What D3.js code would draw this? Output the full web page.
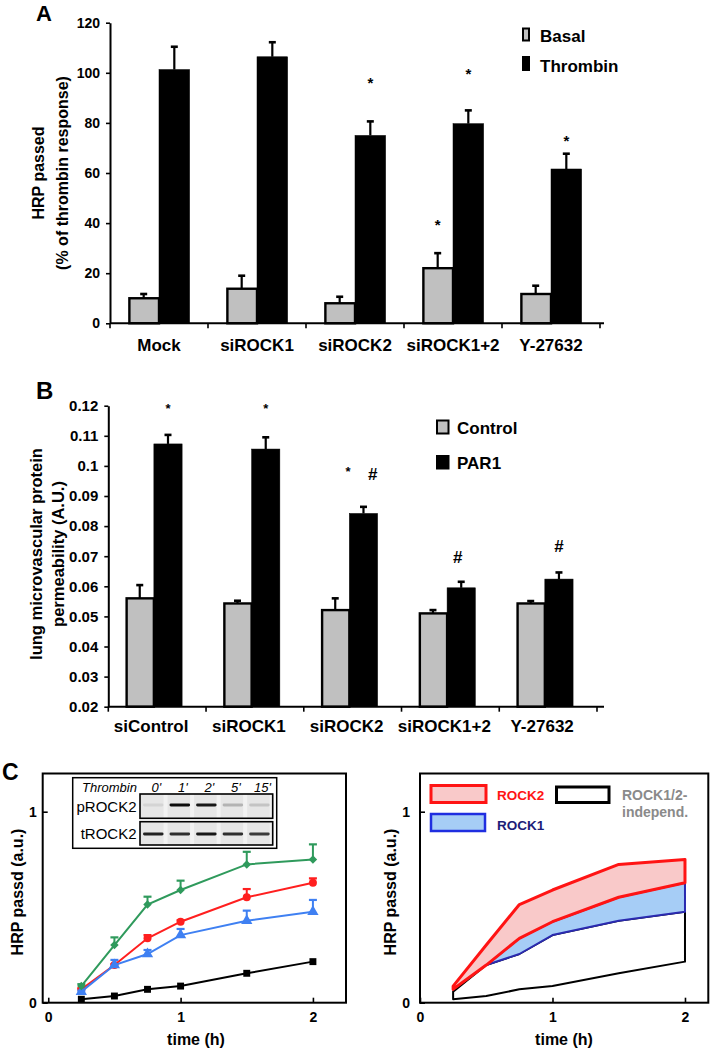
<!DOCTYPE html>
<html><head><meta charset="utf-8">
<script src="https://cdn.jsdelivr.net/npm/d3@7"></script>
<style>body{margin:0;background:#fff}svg{display:block}</style>
</head><body>
<script>
// ---------------- Panel A data ----------------
const catsA = ["Mock", "siROCK1", "siROCK2", "siROCK1+2", "Y-27632"];
const seriesA = ["Basal", "Thrombin"];
const basalA = [10, 13.8, 8, 22, 11.7];
const basalErrA = [1.7, 5.2, 2.6, 6, 3.3];
const thrombinA = [101.3, 106.4, 75, 79.7, 61.6];
const thrombinErrA = [9.1, 5.8, 5.6, 5.3, 6.1];
const yTicksA = [0, 20, 40, 60, 80, 100, 120];
const marksA = [
  {cat: "siROCK2", series: "Thrombin", text: "*", at: 97.3, shift: 0},
  {cat: "siROCK1+2", series: "Basal", text: "*", at: 40.6, shift: 0},
  {cat: "siROCK1+2", series: "Thrombin", text: "*", at: 101, shift: 0},
  {cat: "Y-27632", series: "Thrombin", text: "*", at: 74.2, shift: 0}
];

// ---------------- Panel B data ----------------
const catsB = ["siControl", "siROCK1", "siROCK2", "siROCK1+2", "Y-27632"];
const seriesB = ["Control", "PAR1"];
const controlB = [0.056, 0.0543, 0.0521, 0.051, 0.0543];
const controlErrB = [0.0044, 0.0009, 0.0039, 0.0011, 0.0008];
const par1B = [0.1073, 0.1056, 0.0842, 0.0595, 0.0624];
const par1ErrB = [0.003, 0.0039, 0.0022, 0.002, 0.0022];
const yTicksB = [0.02, 0.03, 0.04, 0.05, 0.06, 0.07, 0.08, 0.09, 0.1, 0.11, 0.12];
const marksB = [
  {cat: "siControl", series: "PAR1", text: "*", at: 0.12, shift: 0},
  {cat: "siROCK1", series: "PAR1", text: "*", at: 0.12, shift: 0},
  {cat: "siROCK2", series: "PAR1", text: "*", at: 0.0992, shift: -0.55},
  {cat: "siROCK2", series: "PAR1", text: "#", at: 0.0975, shift: 0.33},
  {cat: "siROCK1+2", series: "PAR1", text: "#", at: 0.0698, shift: -0.12},
  {cat: "Y-27632", series: "PAR1", text: "#", at: 0.0734, shift: 0}
];

// ---------------- Panel C data ----------------
const timesC = [0.25, 0.5, 0.75, 1, 1.5, 2];
const greenC = [0.087, 0.302, 0.514, 0.59, 0.724, 0.75];
const greenErrC = [0.01, 0.04, 0.041, 0.049, 0.066, 0.079];
const redC = [0.07, 0.197, 0.337, 0.424, 0.552, 0.628];
const redErrC = [0.005, 0.005, 0.017, 0.008, 0.043, 0.023];
const blueC = [0.058, 0.197, 0.255, 0.354, 0.429, 0.476];
const blueErrC = [0.005, 0.027, 0.021, 0.032, 0.053, 0.062];
const blackC = [0.018, 0.035, 0.07, 0.087, 0.154, 0.215];
const xTicksC = [0, 1, 2];
const yTicksC = [0, 1];
const blotLanes = ["0'", "1'", "2'", "5'", "15'"];
const pROCK2Band = [0.08, 0.95, 0.9, 0.22, 0.15];
const tROCK2Band = [0.85, 0.8, 0.9, 0.8, 0.75];
const areaLegend = ["ROCK2", "ROCK1", "ROCK1/2-", "independ."];

// ---------------- drawing ----------------
const FONT = "'Liberation Sans', Arial, Helvetica, sans-serif";
const W = 714, H = 1050;
const svg = d3.select("body").append("svg").attr("width", W).attr("height", H)
  .style("font-family", FONT);
svg.append("rect").attr("width", W).attr("height", H).attr("fill", "#fff");

function panelLetter(t, x, y, fs) {
  svg.append("text").attr("x", x).attr("y", y).text(t)
    .attr("font-size", fs).attr("font-weight", "bold");
}

function barPanel(cfg) {
  const g = svg.append("g");
  const x0 = d3.scaleBand().domain(cfg.cats).range(cfg.xRange).padding(0);
  const x1 = d3.scaleBand().domain(cfg.series).range([0, x0.bandwidth()])
    .paddingInner(0).paddingOuter(cfg.outer).align(cfg.align);
  const y = d3.scaleLinear().domain(cfg.yDomain).range(cfg.yRange);
  const rows = [];
  cfg.cats.forEach((c, i) => {
    cfg.series.forEach((s, j) => {
      rows.push({cat: c, series: s, v: cfg.values[j][i], e: cfg.errs[j][i], j});
    });
  });
  const bx = d => x0(d.cat) + x1(d.series);
  const eb = g.append("g").attr("stroke", "#000").attr("stroke-width", 2.2);
  rows.forEach(d => {
    const cx = bx(d) + x1.bandwidth() / 2;
    eb.append("line").attr("x1", cx).attr("x2", cx).attr("y1", y(d.v)).attr("y2", y(d.v + d.e));
    eb.append("line").attr("x1", cx - 3.5).attr("x2", cx + 3.5).attr("y1", y(d.v + d.e)).attr("y2", y(d.v + d.e)).attr("stroke-width", 2.6);
  });
  g.append("g").selectAll("rect").data(rows).join("rect")
    .attr("x", d => bx(d) + (d.j === 0 ? 1 : 0))
    .attr("y", d => y(d.v))
    .attr("width", d => x1.bandwidth() - (d.j === 0 ? 1 : 0))
    .attr("height", d => y(cfg.yDomain[0]) - y(d.v))
    .attr("fill", d => d.j === 0 ? "#c0c0c0" : "#000")
    .attr("stroke", "#000").attr("stroke-width", d => d.j === 0 ? 2.4 : 0.5);
  const ya = g.append("g").attr("transform", `translate(${cfg.xRange[0]},0)`)
    .call(d3.axisLeft(y).tickValues(cfg.yTicks).tickSize(4).tickSizeOuter(0).tickPadding(6).tickFormat(cfg.fmt));
  ya.selectAll("text").attr("font-size", cfg.tickFont).attr("font-weight", "bold").attr("font-family", FONT).attr("fill", "#000");
  ya.select(".domain").attr("stroke-width", 2);
  ya.selectAll(".tick line").attr("stroke-width", 1.6);
  const ybase = y(cfg.yDomain[0]);
  g.append("line").attr("x1", cfg.xRange[0]).attr("x2", cfg.xEnd).attr("y1", ybase).attr("y2", ybase)
    .attr("stroke", "#000").attr("stroke-width", 2);
  const bounds = cfg.cats.map(c => x0(c)).concat([cfg.xRange[1]]);
  g.append("g").selectAll("line").data(bounds).join("line")
    .attr("x1", d => d).attr("x2", d => d).attr("y1", ybase).attr("y2", ybase + 5)
    .attr("stroke", "#000").attr("stroke-width", 1.6);
  g.append("g").selectAll("text").data(cfg.cats).join("text")
    .attr("x", c => x0(c) + x0.bandwidth() / 2 + cfg.labelShift)
    .attr("y", cfg.labelY).attr("text-anchor", "middle")
    .attr("font-size", 17).attr("font-weight", "bold").text(c => c);
  cfg.marks.forEach(m => {
    const cx = x0(m.cat) + x1(m.series) + x1.bandwidth() / 2 + m.shift * x1.bandwidth();
    const isStar = m.text === "*";
    const fs = isStar ? cfg.starFont : 17;
    g.append("text").attr("x", cx).attr("y", y(m.at) + (isStar ? fs * 0.56 : fs * 0.36))
      .attr("text-anchor", "middle").attr("font-size", fs).attr("font-weight", "bold").text(m.text);
  });
  const tx = g.append("text").attr("transform", `translate(0,${cfg.titleY}) rotate(-90)`)
    .attr("text-anchor", "middle").attr("font-size", cfg.titleFont).attr("font-weight", "bold");
  cfg.title.forEach((t, i) => {
    tx.append("tspan").attr("x", 0).attr("y", cfg.titleX[i]).attr("dy", "0.36em").text(t);
  });
  cfg.series.forEach((s, j) => {
    const L = cfg.legend[j];
    g.append("rect").attr("x", L.x).attr("y", L.y).attr("width", L.w).attr("height", L.h)
      .attr("fill", j === 0 ? "#c0c0c0" : "#000").attr("stroke", "#000").attr("stroke-width", 2);
    g.append("text").attr("x", L.tx).attr("y", L.ty).attr("font-size", 17).attr("font-weight", "bold").text(s);
  });
}

// Panel A
panelLetter("A", 36, 21, 22);
barPanel({
  cats: catsA, series: seriesA, values: [basalA, thrombinA], errs: [basalErrA, thrombinErrA],
  xRange: [110, 600], xEnd: 604, outer: 0.6, align: 0.5,
  yDomain: [0, 120], yRange: [323.3, 22.7], yTicks: yTicksA, fmt: d3.format("d"), tickFont: 14,
  labelY: 350.7, labelShift: 0, marks: marksA, starFont: 15,
  title: ["HRP passed", "(% of thrombin response)"], titleX: [38, 62], titleY: 173, titleFont: 16,
  legend: [{x: 523, y: 28.5, w: 6, h: 12, tx: 540, ty: 41.5}, {x: 523, y: 57, w: 6, h: 13, tx: 540, ty: 71.5}]
});

// Panel B
panelLetter("B", 36, 399, 24);
barPanel({
  cats: catsB, series: seriesB, values: [controlB, par1B], errs: [controlErrB, par1ErrB],
  xRange: [108.3, 597], xEnd: 604, outer: 0.73, align: 0.42,
  yDomain: [0.02, 0.12], yRange: [706.7, 405.7], yTicks: yTicksB, fmt: d => String(+d.toFixed(2)), tickFont: 15,
  labelY: 731.7, labelShift: -6, marks: marksB, starFont: 13,
  title: ["lung microvascular protein", "permeability (A.U.)"], titleX: [36, 58], titleY: 554, titleFont: 16.5,
  legend: [{x: 437, y: 420.5, w: 11.5, h: 13, tx: 457, ty: 433.5}, {x: 437, y: 456, w: 11.5, h: 12.5, tx: 457, ty: 469}]
});

// ---------------- Panel C ----------------
panelLetter("C", 2, 780, 23);
const yC = d3.scaleLinear().domain([0, 1.2]).range([1002.7, 773.5]);

function framedAxes(g, x, frame) {
  g.append("rect").attr("x", frame[0]).attr("y", yC(1.2)).attr("width", frame[1] - frame[0])
    .attr("height", yC(0) - yC(1.2)).attr("fill", "#fff").attr("stroke", "#000").attr("stroke-width", 2);
  const xa = g.append("g").attr("transform", `translate(0,${yC(0)})`)
    .call(d3.axisBottom(x).tickValues(xTicksC).tickSize(-5).tickSizeOuter(0).tickPadding(9).tickFormat(d3.format("d")));
  xa.select(".domain").remove();
  xa.selectAll("text").attr("font-size", 14).attr("font-weight", "bold").attr("font-family", FONT);
  xa.selectAll(".tick line").attr("stroke-width", 1.6);
  return xa;
}
function yAxisC(g, xpos, pad) {
  const ya = g.append("g").attr("transform", `translate(${xpos},0)`)
    .call(d3.axisLeft(yC).tickValues(yTicksC).tickSize(-5).tickSizeOuter(0).tickPadding(pad).tickFormat(d3.format("d")));
  ya.select(".domain").remove();
  ya.selectAll("text").attr("font-size", 14).attr("font-weight", "bold").attr("font-family", FONT);
  ya.selectAll(".tick line").attr("stroke-width", 1.6);
}
function titlesC(g, cx, ytx) {
  g.append("text").attr("x", cx).attr("y", 1045).attr("text-anchor", "middle")
    .attr("font-size", 16).attr("font-weight", "bold").text("time (h)");
  g.append("text").attr("transform", `translate(${ytx},892) rotate(-90)`).attr("dy", "0.36em")
    .attr("text-anchor", "middle").attr("font-size", 16).attr("font-weight", "bold").text("HRP passd (a.u.)");
}

// Left C
const gL = svg.append("g");
const xCL = d3.scaleLinear().domain([-0.042, 2.25]).range([42.7, 346]);
framedAxes(gL, xCL, [42.7, 346]);
yAxisC(gL, 42.7, 6);
titlesC(gL, 196, 17);

// inset blot
const ins = gL.append("g");
ins.append("rect").attr("x", 72.7).attr("y", 777.7).attr("width", 204).attr("height", 70.6)
  .attr("fill", "#fff").attr("stroke", "#000").attr("stroke-width", 1.5);
ins.append("text").attr("x", 82).attr("y", 791.5).attr("font-size", 13).attr("font-style", "italic").text("Thrombin");
const lane = d3.scaleBand().domain(blotLanes).range([140, 272.7]);
ins.append("g").selectAll("text").data(blotLanes).join("text")
  .attr("x", d => lane(d) + lane.bandwidth() / 2 + 3).attr("y", 791.5).attr("text-anchor", "middle")
  .attr("font-size", 13).attr("font-style", "italic").text(d => d);
const defs = svg.append("defs");
defs.append("filter").attr("id", "blur").append("feGaussianBlur").attr("stdDeviation", 0.7);
const blots = [{label: "pROCK2", y0: 794, y1: 818.3, bands: pROCK2Band, by: 805},
               {label: "tROCK2", y0: 821.7, y1: 845, bands: tROCK2Band, by: 834}];
blots.forEach(b => {
  ins.append("rect").attr("x", 140).attr("y", b.y0).attr("width", 132.7).attr("height", b.y1 - b.y0)
    .attr("fill", "#e6e6e6");
  ins.append("g").selectAll("rect").data(blotLanes).join("rect")
    .attr("x", d => lane(d) + lane.bandwidth() - 3).attr("y", b.y0).attr("width", 4).attr("height", b.y1 - b.y0)
    .attr("fill", "#f2f2f2");
  ins.append("g").attr("filter", "url(#blur)").selectAll("rect").data(blotLanes).join("rect")
    .attr("x", d => lane(d) + 3).attr("y", b.by - 1.4).attr("width", lane.bandwidth() - 6).attr("height", 2.8)
    .attr("rx", 1.4).attr("fill", "#000").attr("opacity", (d, i) => b.bands[i]);
  ins.append("rect").attr("x", 140).attr("y", b.y0).attr("width", 132.7).attr("height", b.y1 - b.y0)
    .attr("fill", "none").attr("stroke", "#000").attr("stroke-width", 1.6);
  ins.append("text").attr("x", 136.5).attr("y", (b.y0 + b.y1) / 2).attr("dy", "0.36em")
    .attr("text-anchor", "end").attr("font-size", 15).text(b.label);
});

// series lines
const seriesC = [
  {vals: blackC, err: null, color: "#000", sym: d3.symbolSquare, size: 48, rot: 0},
  {vals: redC, err: redErrC, color: "#ff1f1f", sym: d3.symbolCircle, size: 50, rot: 0},
  {vals: blueC, err: blueErrC, color: "#3f80f2", sym: d3.symbolTriangle, size: 55, rot: 0},
  {vals: greenC, err: greenErrC, color: "#2f9a5c", sym: d3.symbolSquare, size: 36, rot: 45}
];
seriesC.forEach(s => {
  const pts = timesC.map((t, i) => ({t, v: s.vals[i], e: s.err ? s.err[i] : 0}));
  const gg = gL.append("g");
  gg.append("path").datum(pts).attr("fill", "none").attr("stroke", s.color).attr("stroke-width", 2)
    .attr("d", d3.line().x(d => xCL(d.t)).y(d => yC(d.v)));
  pts.forEach(p => {
    if (p.e > 0) {
      gg.append("line").attr("x1", xCL(p.t)).attr("x2", xCL(p.t)).attr("y1", yC(p.v)).attr("y2", yC(p.v + p.e))
        .attr("stroke", s.color).attr("stroke-width", 2);
      gg.append("line").attr("x1", xCL(p.t) - 4).attr("x2", xCL(p.t) + 4).attr("y1", yC(p.v + p.e)).attr("y2", yC(p.v + p.e))
        .attr("stroke", s.color).attr("stroke-width", 2.2);
    }
  });
  gg.selectAll("path.m").data(pts).join("path").attr("class", "m")
    .attr("transform", d => `translate(${xCL(d.t)},${yC(d.v)}) rotate(${s.rot})`)
    .attr("d", d3.symbol().type(s.sym).size(s.size)).attr("fill", s.color);
});

// Right C
const gR = svg.append("g");
const xCR = d3.scaleLinear().domain([0, 2.176]).range([420, 708.3]);
framedAxes(gR, xCR, [420, 708.3]);
yAxisC(gR, 420, 10);
titlesC(gR, 564, 390);

const ptsAll = timesC.map((t, i) => ({t, g: greenC[i], r: redC[i], b: blueC[i], k: blackC[i]}));
const area = (top, bot) => d3.area().x(d => xCR(d.t)).y0(d => yC(d[bot])).y1(d => yC(d[top]));
gR.append("path").datum(ptsAll).attr("d", area("b", "k"))
  .attr("fill", "#fff").attr("stroke", "#000").attr("stroke-width", 2).attr("stroke-linejoin", "round");
gR.append("path").datum(ptsAll.filter(d => d.t >= 0.5)).attr("d", area("r", "b"))
  .attr("fill", "#a6cdf6").attr("stroke", "#2a2ab0").attr("stroke-width", 2).attr("stroke-linejoin", "round");
gR.append("path").datum(ptsAll).attr("d", area("g", "r"))
  .attr("fill", "#f9c9c9").attr("stroke", "#ff1414").attr("stroke-width", 3).attr("stroke-linejoin", "round");

// right legend
const legR = gR.append("g");
legR.append("rect").attr("x", 431).attr("y", 785.5).attr("width", 55).attr("height", 17)
  .attr("fill", "#f9c9c9").attr("stroke", "#ff1414").attr("stroke-width", 3);
legR.append("rect").attr("x", 431).attr("y", 814).attr("width", 54).attr("height", 17)
  .attr("fill", "#a6cdf6").attr("stroke", "#1f2ee0").attr("stroke-width", 2.5);
legR.append("rect").attr("x", 556.5).attr("y", 787).attr("width", 52.5).attr("height", 15.5)
  .attr("fill", "#fff").attr("stroke", "#000").attr("stroke-width", 3);
legR.append("text").attr("x", 497).attr("y", 799.5).attr("font-size", 13.5).attr("font-weight", "bold")
  .attr("fill", "#ff1414").text(areaLegend[0]);
legR.append("text").attr("x", 497).attr("y", 829.5).attr("font-size", 13.5).attr("font-weight", "bold")
  .attr("fill", "#1c1c78").text(areaLegend[1]);
legR.append("text").attr("x", 622).attr("y", 799.5).attr("font-size", 14).attr("font-weight", "bold")
  .attr("fill", "#8a8a8a").text(areaLegend[2]);
legR.append("text").attr("x", 622).attr("y", 816.5).attr("font-size", 14).attr("font-weight", "bold")
  .attr("fill", "#8a8a8a").text(areaLegend[3]);
</script>
</body></html>
